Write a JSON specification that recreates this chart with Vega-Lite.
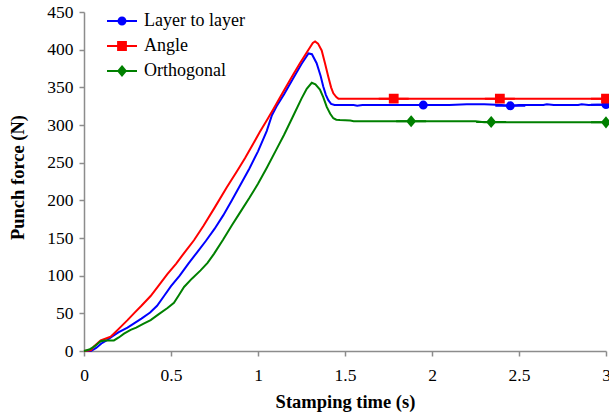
{
  "$schema": "https://vega.github.io/schema/vega-lite/v6.json",
  "width": 522,
  "height": 339,
  "autosize": "none",
  "padding": {"left": 84, "top": 12, "right": 3, "bottom": 66},
  "background": "white",
  "config": {
    "font": "Liberation Serif",
    "view": {"stroke": null},
    "axis": {
      "grid": false,
      "domainColor": "#8c8c8c",
      "domainWidth": 1.5,
      "tickColor": "#8c8c8c",
      "tickWidth": 1.5,
      "tickSize": 5,
      "labelFont": "Liberation Serif",
      "labelFontSize": 17.5,
      "labelColor": "black",
      "titleFont": "Liberation Serif",
      "titleFontSize": 18.5,
      "titleFontWeight": "bold",
      "titleColor": "black"
    },
    "legend": {
      "labelFont": "Liberation Serif",
      "labelFontSize": 18,
      "labelColor": "black",
      "title": null,
      "orient": "none",
      "legendX": 22,
      "legendY": -7,
      "padding": 0,
      "symbolSize": 900,
      "symbolStrokeWidth": 2,
      "labelOffset": 6,
      "rowPadding": -10
    }
  },
  "datasets": {
    "curves": [
      {"series": "Layer to layer", "time": 0, "force": 0},
      {"series": "Layer to layer", "time": 0.04, "force": 0},
      {"series": "Layer to layer", "time": 0.07, "force": 4},
      {"series": "Layer to layer", "time": 0.1, "force": 10},
      {"series": "Layer to layer", "time": 0.13, "force": 14},
      {"series": "Layer to layer", "time": 0.16, "force": 19},
      {"series": "Layer to layer", "time": 0.2, "force": 25},
      {"series": "Layer to layer", "time": 0.25, "force": 31},
      {"series": "Layer to layer", "time": 0.29, "force": 37},
      {"series": "Layer to layer", "time": 0.33, "force": 43},
      {"series": "Layer to layer", "time": 0.38, "force": 51},
      {"series": "Layer to layer", "time": 0.42, "force": 60},
      {"series": "Layer to layer", "time": 0.46, "force": 73},
      {"series": "Layer to layer", "time": 0.5, "force": 86},
      {"series": "Layer to layer", "time": 0.55, "force": 100},
      {"series": "Layer to layer", "time": 0.6, "force": 116},
      {"series": "Layer to layer", "time": 0.65, "force": 131},
      {"series": "Layer to layer", "time": 0.7, "force": 146},
      {"series": "Layer to layer", "time": 0.75, "force": 162},
      {"series": "Layer to layer", "time": 0.8, "force": 180},
      {"series": "Layer to layer", "time": 0.85, "force": 200},
      {"series": "Layer to layer", "time": 0.9, "force": 221},
      {"series": "Layer to layer", "time": 0.95, "force": 242},
      {"series": "Layer to layer", "time": 1.0, "force": 265},
      {"series": "Layer to layer", "time": 1.05, "force": 292},
      {"series": "Layer to layer", "time": 1.08, "force": 313},
      {"series": "Layer to layer", "time": 1.107, "force": 325},
      {"series": "Layer to layer", "time": 1.15, "force": 341},
      {"series": "Layer to layer", "time": 1.2, "force": 361},
      {"series": "Layer to layer", "time": 1.25, "force": 381},
      {"series": "Layer to layer", "time": 1.29, "force": 395},
      {"series": "Layer to layer", "time": 1.31, "force": 394},
      {"series": "Layer to layer", "time": 1.337, "force": 382},
      {"series": "Layer to layer", "time": 1.36, "force": 365},
      {"series": "Layer to layer", "time": 1.375, "force": 351},
      {"series": "Layer to layer", "time": 1.39, "force": 340},
      {"series": "Layer to layer", "time": 1.404, "force": 333},
      {"series": "Layer to layer", "time": 1.42, "force": 328},
      {"series": "Layer to layer", "time": 1.44, "force": 326.5},
      {"series": "Layer to layer", "time": 1.55, "force": 326.5},
      {"series": "Layer to layer", "time": 1.57, "force": 325.5},
      {"series": "Layer to layer", "time": 1.6, "force": 326.5},
      {"series": "Layer to layer", "time": 1.8, "force": 326.5},
      {"series": "Layer to layer", "time": 2.1, "force": 326.5},
      {"series": "Layer to layer", "time": 2.2, "force": 327.5},
      {"series": "Layer to layer", "time": 2.3, "force": 327.5},
      {"series": "Layer to layer", "time": 2.4, "force": 326.5},
      {"series": "Layer to layer", "time": 2.45, "force": 325.5},
      {"series": "Layer to layer", "time": 2.5, "force": 326.5},
      {"series": "Layer to layer", "time": 2.64, "force": 326.5},
      {"series": "Layer to layer", "time": 2.66, "force": 327.5},
      {"series": "Layer to layer", "time": 2.7, "force": 326.5},
      {"series": "Layer to layer", "time": 2.84, "force": 326.5},
      {"series": "Layer to layer", "time": 2.86, "force": 327.5},
      {"series": "Layer to layer", "time": 2.9, "force": 326.5},
      {"series": "Layer to layer", "time": 2.95, "force": 327},
      {"series": "Layer to layer", "time": 3.0, "force": 327},
      {"series": "Angle", "time": 0, "force": 0},
      {"series": "Angle", "time": 0.04, "force": 1},
      {"series": "Angle", "time": 0.057, "force": 6},
      {"series": "Angle", "time": 0.096, "force": 14},
      {"series": "Angle", "time": 0.13, "force": 17},
      {"series": "Angle", "time": 0.153, "force": 19},
      {"series": "Angle", "time": 0.18, "force": 25},
      {"series": "Angle", "time": 0.211, "force": 32},
      {"series": "Angle", "time": 0.25, "force": 41},
      {"series": "Angle", "time": 0.287, "force": 50},
      {"series": "Angle", "time": 0.33, "force": 60},
      {"series": "Angle", "time": 0.383, "force": 73},
      {"series": "Angle", "time": 0.43, "force": 87},
      {"series": "Angle", "time": 0.479, "force": 102},
      {"series": "Angle", "time": 0.53, "force": 116},
      {"series": "Angle", "time": 0.575, "force": 130},
      {"series": "Angle", "time": 0.632, "force": 147},
      {"series": "Angle", "time": 0.686, "force": 166},
      {"series": "Angle", "time": 0.75, "force": 190},
      {"series": "Angle", "time": 0.82, "force": 217},
      {"series": "Angle", "time": 0.88, "force": 239},
      {"series": "Angle", "time": 0.925, "force": 256},
      {"series": "Angle", "time": 0.97, "force": 274},
      {"series": "Angle", "time": 1.011, "force": 291},
      {"series": "Angle", "time": 1.05, "force": 306},
      {"series": "Angle", "time": 1.088, "force": 321},
      {"series": "Angle", "time": 1.15, "force": 346},
      {"series": "Angle", "time": 1.2, "force": 366},
      {"series": "Angle", "time": 1.241, "force": 382},
      {"series": "Angle", "time": 1.29, "force": 400},
      {"series": "Angle", "time": 1.315, "force": 409},
      {"series": "Angle", "time": 1.328, "force": 411},
      {"series": "Angle", "time": 1.345, "force": 408},
      {"series": "Angle", "time": 1.366, "force": 399},
      {"series": "Angle", "time": 1.385, "force": 382},
      {"series": "Angle", "time": 1.404, "force": 364},
      {"series": "Angle", "time": 1.42, "force": 350},
      {"series": "Angle", "time": 1.433, "force": 342},
      {"series": "Angle", "time": 1.45, "force": 337},
      {"series": "Angle", "time": 1.462, "force": 335},
      {"series": "Angle", "time": 2.0, "force": 335},
      {"series": "Angle", "time": 2.5, "force": 335},
      {"series": "Angle", "time": 3.0, "force": 335},
      {"series": "Orthogonal", "time": 0, "force": 0},
      {"series": "Orthogonal", "time": 0.03, "force": 2},
      {"series": "Orthogonal", "time": 0.06, "force": 6},
      {"series": "Orthogonal", "time": 0.096, "force": 13},
      {"series": "Orthogonal", "time": 0.12, "force": 14},
      {"series": "Orthogonal", "time": 0.172, "force": 14},
      {"series": "Orthogonal", "time": 0.2, "force": 18},
      {"series": "Orthogonal", "time": 0.23, "force": 23},
      {"series": "Orthogonal", "time": 0.268, "force": 28},
      {"series": "Orthogonal", "time": 0.3, "force": 31},
      {"series": "Orthogonal", "time": 0.34, "force": 36},
      {"series": "Orthogonal", "time": 0.383, "force": 41},
      {"series": "Orthogonal", "time": 0.43, "force": 49},
      {"series": "Orthogonal", "time": 0.48, "force": 57},
      {"series": "Orthogonal", "time": 0.517, "force": 64},
      {"series": "Orthogonal", "time": 0.545, "force": 74},
      {"series": "Orthogonal", "time": 0.575, "force": 85},
      {"series": "Orthogonal", "time": 0.62, "force": 96},
      {"series": "Orthogonal", "time": 0.67, "force": 107},
      {"series": "Orthogonal", "time": 0.71, "force": 117},
      {"series": "Orthogonal", "time": 0.747, "force": 129},
      {"series": "Orthogonal", "time": 0.8, "force": 148},
      {"series": "Orthogonal", "time": 0.85, "force": 167},
      {"series": "Orthogonal", "time": 0.9, "force": 185},
      {"series": "Orthogonal", "time": 0.95, "force": 203},
      {"series": "Orthogonal", "time": 1.0, "force": 222},
      {"series": "Orthogonal", "time": 1.05, "force": 243},
      {"series": "Orthogonal", "time": 1.1, "force": 265},
      {"series": "Orthogonal", "time": 1.15, "force": 287},
      {"series": "Orthogonal", "time": 1.2, "force": 311},
      {"series": "Orthogonal", "time": 1.25, "force": 335},
      {"series": "Orthogonal", "time": 1.28, "force": 348},
      {"series": "Orthogonal", "time": 1.309, "force": 356},
      {"series": "Orthogonal", "time": 1.33, "force": 354},
      {"series": "Orthogonal", "time": 1.356, "force": 347},
      {"series": "Orthogonal", "time": 1.375, "force": 337},
      {"series": "Orthogonal", "time": 1.395, "force": 324},
      {"series": "Orthogonal", "time": 1.415, "force": 315},
      {"series": "Orthogonal", "time": 1.433, "force": 309},
      {"series": "Orthogonal", "time": 1.45, "force": 307},
      {"series": "Orthogonal", "time": 1.471, "force": 306.5},
      {"series": "Orthogonal", "time": 1.53, "force": 306},
      {"series": "Orthogonal", "time": 1.55, "force": 305},
      {"series": "Orthogonal", "time": 2.25, "force": 305},
      {"series": "Orthogonal", "time": 2.3, "force": 303.5},
      {"series": "Orthogonal", "time": 3.0, "force": 303.5}
    ],
    "markers": [
      {"series": "Layer to layer", "time": 1.95, "force": 326.5},
      {"series": "Layer to layer", "time": 2.45, "force": 325.5},
      {"series": "Layer to layer", "time": 3.0, "force": 327},
      {"series": "Angle", "time": 1.78, "force": 335},
      {"series": "Angle", "time": 2.39, "force": 335},
      {"series": "Angle", "time": 3.0, "force": 335},
      {"series": "Orthogonal", "time": 1.88, "force": 305},
      {"series": "Orthogonal", "time": 2.34, "force": 304},
      {"series": "Orthogonal", "time": 3.0, "force": 303.5}
    ]
  },
  "encoding": {
    "x": {
      "field": "time",
      "type": "quantitative",
      "scale": {"domain": [0, 3], "nice": false, "zero": false},
      "axis": {
        "title": "Stamping time (s)",
        "values": [0, 0.5, 1, 1.5, 2, 2.5, 3],
        "format": "~g",
        "labelOverlap": false,
        "labelBound": false,
        "labelFlush": false,
        "labelPadding": 10,
        "titlePadding": 9
      }
    },
    "y": {
      "field": "force",
      "type": "quantitative",
      "scale": {"domain": [0, 450], "nice": false},
      "axis": {
        "title": "Punch force (N)",
        "values": [0, 50, 100, 150, 200, 250, 300, 350, 400, 450],
        "labelPadding": 6,
        "titleX": -57,
        "titleY": 165,
        "titleBaseline": "bottom",
        "titleAngle": -90
      }
    }
  },
  "layer": [
    {
      "data": {"name": "curves"},
      "mark": {"type": "line", "strokeWidth": 2},
      "encoding": {
        "stroke": {
          "field": "series",
          "type": "nominal",
          "scale": {
            "domain": ["Layer to layer", "Angle", "Orthogonal"],
            "range": ["#0000ff", "#ff0000", "#008000"]
          }
        },
        "detail": {"field": "series"}
      }
    },
    {
      "data": {"name": "markers"},
      "mark": {"type": "point", "filled": true, "size": 900, "strokeWidth": 2, "opacity": 1},
      "encoding": {
        "fill": {
          "field": "series",
          "type": "nominal",
          "scale": {
            "domain": ["Layer to layer", "Angle", "Orthogonal"],
            "range": ["#0000ff", "#ff0000", "#008000"]
          }
        },
        "stroke": {"field": "series", "type": "nominal"},
        "shape": {
          "field": "series",
          "type": "nominal",
          "scale": {
            "domain": ["Layer to layer", "Angle", "Orthogonal"],
            "range": [
              "M-1,0H1M0.23,0A0.23,0.23 0 1,1 -0.23,0A0.23,0.23 0 1,1 0.23,0Z",
              "M-1,0H1M-0.26,-0.26H0.26V0.26H-0.26Z",
              "M-1,0H1M0,-0.3L0.25,0L0,0.3L-0.25,0Z"
            ]
          }
        }
      }
    }
  ]
}
